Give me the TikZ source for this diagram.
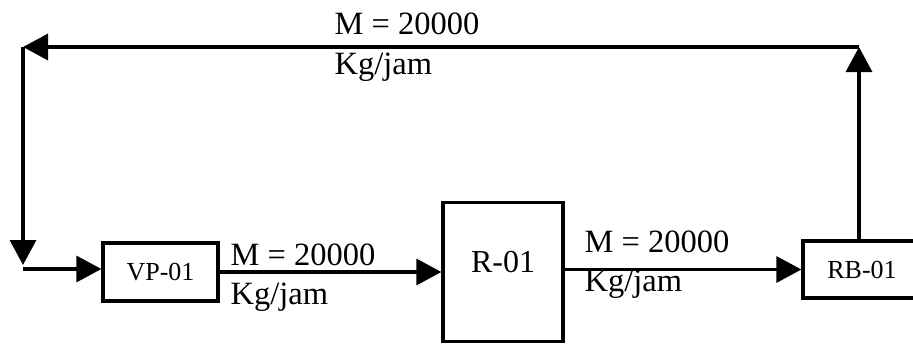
\documentclass[tikz,border=0pt]{standalone}
\usepackage{fontspec}
\setmainfont{Liberation Serif}
\usetikzlibrary{arrows.meta, positioning}

\begin{document}
\begin{tikzpicture}[
  x=1pt, y=-1pt,
  >={Triangle[length=25pt, width=26pt]},
  line width=3.2pt,
  box/.style={draw, inner sep=0pt, font=\fontsize{26}{30}\selectfont},
  flowlabel/.style={anchor=base west, align=left, inner sep=0pt, font=\fontsize{32.5}{39.5}\selectfont},
]
\useasboundingbox (0,0) rectangle (913,343);
\clip (0,0) rectangle (913,343);

\node (vp) [box, minimum width=115pt, minimum height=58pt] at (160.5,272) {VP-01};
\node (reactor) [box, right=221.8pt of vp, minimum width=120pt, text height=70pt, text depth=69pt, font=\fontsize{32}{36}\selectfont] {R-01};
\node (rb) [box, right=236.8pt of reactor, yshift=2.5pt, minimum width=118pt, minimum height=57pt] {RB-01};

% base of a two-line label is the second line
\node (flowtop) [flowlabel] at (333,74) {M = 20000\\Kg/jam};
\node (flowvp) [flowlabel] at (229,304.5) {M = 20000\\Kg/jam};
\node (flowr) [flowlabel] at (583,291.5) {M = 20000\\Kg/jam};

\coordinate (upturn) at (859,47);
\coordinate (leftturn) at (23,47);
\coordinate (inlet) at (23,269);

\draw[->] (rb.north -| upturn) -- (upturn);
\draw[->] (upturn) -- (leftturn);
\draw[->, shorten >=4pt] (leftturn) -- (inlet);
\draw[->] (inlet) -- (inlet -| vp.west);
\draw[->] (vp.east) -- (vp.east -| reactor.west);
\draw[->] (reactor.east |- rb.west) -- (rb.west);
\end{tikzpicture}
\end{document}
